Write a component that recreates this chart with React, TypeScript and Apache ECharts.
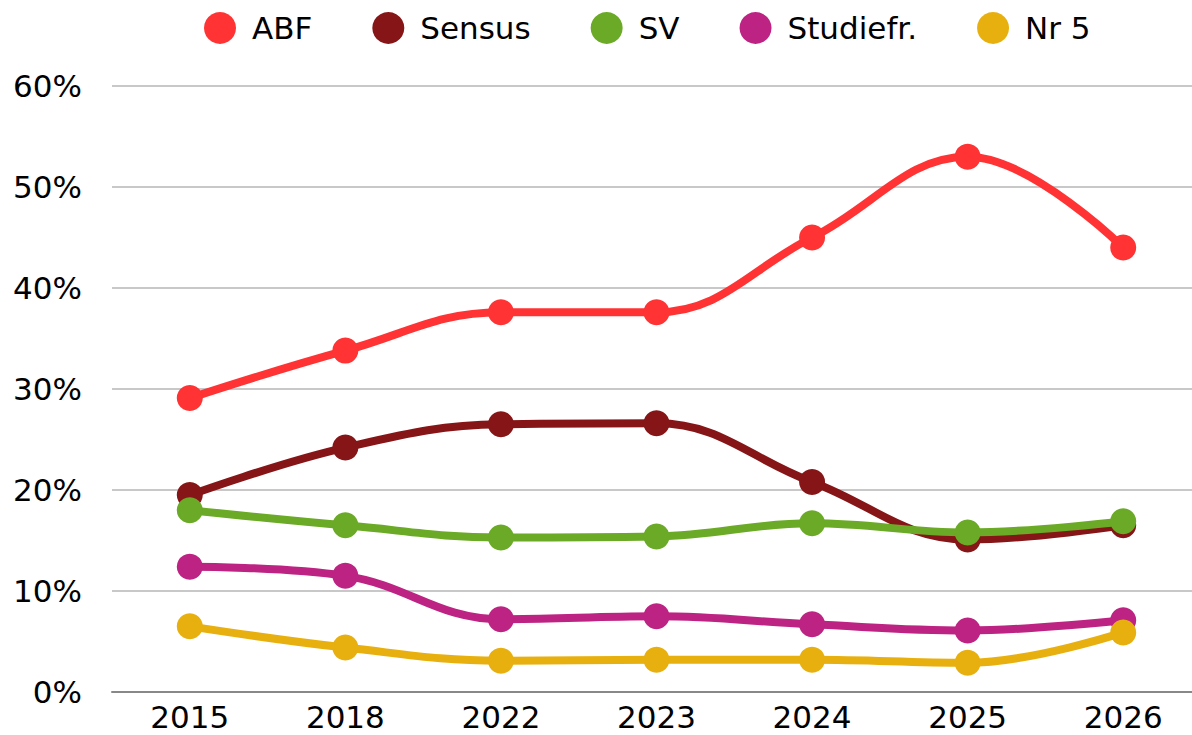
import React, { useEffect, useRef } from "react";
import * as echarts from "echarts";

const years = ["2015", "2018", "2022", "2023", "2024", "2025", "2026"];
const seriesNames = ["ABF", "Sensus", "SV", "Studiefr.", "Nr 5"];
const abf = [29.1, 33.8, 37.6, 37.6, 45.0, 53.0, 44.0];
const sensus = [19.5, 24.2, 26.5, 26.6, 20.8, 15.1, 16.5];
const sv = [18.0, 16.5, 15.3, 15.4, 16.7, 15.8, 16.9];
const studiefr = [12.4, 11.5, 7.2, 7.5, 6.7, 6.1, 7.1];
const nr5 = [6.5, 4.4, 3.1, 3.2, 3.2, 2.9, 5.9];
const colors = ["#ff3333", "#861517", "#6aaa26", "#bd2383", "#e8b00f"];
const yTicks = { min: 0, max: 60, interval: 10 };

export default function App() {
  const ref = useRef<HTMLDivElement>(null);
  useEffect(() => {
    if (!ref.current) return;
    const chart = echarts.init(ref.current, null, { renderer: "svg" });
    const data = [abf, sensus, sv, studiefr, nr5];
    const font = "DejaVu Sans";
    chart.setOption({
      animation: false,
      color: colors,
      textStyle: { fontFamily: font },
      legend: {
        top: 12,
        left: 204,
        padding: 0,
        itemWidth: 32,
        itemHeight: 32,
        itemGap: 60,
        icon: "circle",
        textStyle: { fontSize: 31, color: "#000", fontFamily: font, padding: [0, 0, 0, 11] },
        data: seriesNames,
      },
      grid: { left: 112, right: 0, top: 86, bottom: 43, containLabel: false },
      xAxis: {
        type: "category",
        data: years,
        boundaryGap: true,
        axisLine: { lineStyle: { color: "#888", width: 2 } },
        axisTick: { show: false },
        axisLabel: { fontSize: 31, color: "#000", margin: 9, fontFamily: font },
      },
      yAxis: {
        type: "value",
        min: yTicks.min,
        max: yTicks.max,
        interval: yTicks.interval,
        axisLine: { show: false },
        axisTick: { show: false },
        splitLine: { lineStyle: { color: "#c8c8c8", width: 2 } },
        axisLabel: { fontSize: 31, color: "#000", margin: 30, formatter: "{value}%", fontFamily: font },
      },
      series: seriesNames.map((name, i) => ({
        name,
        type: "line",
        data: data[i],
        smooth: 0.4,
        symbol: "circle",
        symbolSize: 26,
        lineStyle: { width: 8, color: colors[i] },
        itemStyle: { color: colors[i] },
        z: 2 + i,
      })),
    });
    return () => chart.dispose();
  }, []);
  return (
    <div
      style={{ position: "fixed", left: 0, top: 0, width: 1192, height: 735, overflow: "hidden", background: "#fff" }}
    >
      <div ref={ref} style={{ width: 1201, height: 735 }} />
    </div>
  );
}
